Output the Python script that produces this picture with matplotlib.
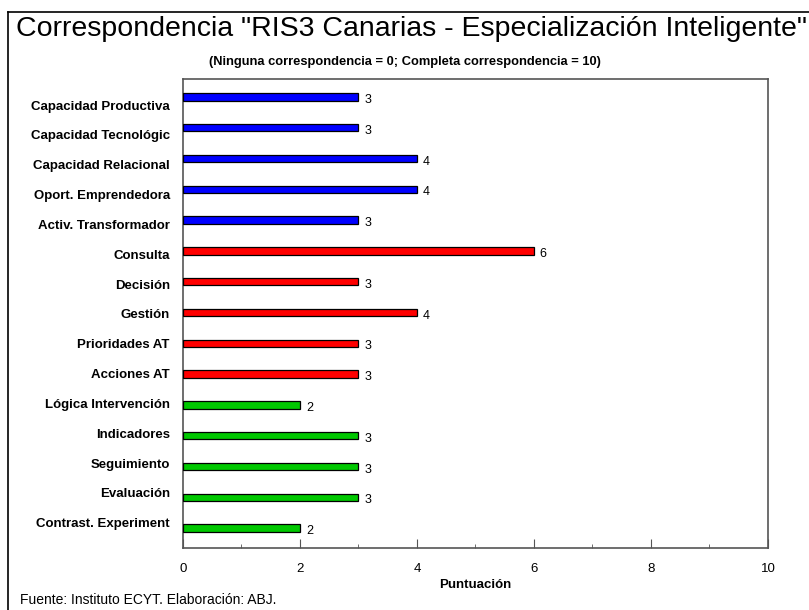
import numpy as np
import matplotlib
matplotlib.use('Agg')
from matplotlib import pyplot as plt
from matplotlib.lines import Line2D

categories = ['Capacidad Productiva', 'Capacidad Tecnológic', 'Capacidad Relacional',
              'Oport. Emprendedora', 'Activ. Transformador', 'Consulta', 'Decisión',
              'Gestión', 'Prioridades AT', 'Acciones AT', 'Lógica Intervención',
              'Indicadores', 'Seguimiento', 'Evaluación', 'Contrast. Experiment']
values = [3, 3, 4, 4, 3, 6, 3, 4, 3, 3, 2, 3, 3, 3, 2]
groups = ['azul'] * 5 + ['rojo'] * 5 + ['verde'] * 5
group_colors = {'azul': '#0000FF', 'rojo': '#FF0000', 'verde': '#00C800'}
x_ticks = [0, 2, 4, 6, 8, 10]

plt.rcParams['font.family'] = ['Liberation Sans', 'DejaVu Sans']

fig = plt.figure(figsize=(8.09, 6.10), dpi=100)
ax = fig.add_axes([0.2262, 0.1016, 0.7231, 0.7689])

pos = np.arange(len(categories))
colors = [group_colors[g] for g in groups]
ax.barh(pos, values, height=0.24, color=colors, edgecolor='black', linewidth=0.9, zorder=3)

for p, v in zip(pos, values):
    ax.text(v + 0.1, p + 0.1, str(v), fontsize=9, va='center', ha='left')

ax.set_xlim(0, 10)
ax.set_ylim(14.65, -0.585)

# etiquetas de categorias ligeramente desplazadas respecto a las barras
label_pos = 0.26 + pos * (13.57 / 14)
ax.set_yticks(label_pos)
ax.set_yticklabels(categories, fontsize=9.5, fontweight='bold')
ax.tick_params(axis='y', length=0, pad=9.5)

ax.set_xticks(x_ticks)
ax.set_xticks(np.arange(0, 11, 1), minor=True)
ax.tick_params(axis='x', which='major', direction='in', length=6.5, color='#555555', labelsize=9.5, pad=11)
ax.tick_params(axis='x', which='minor', direction='in', length=3, color='#555555')
ax.set_xlabel('Puntuación', fontsize=9.5, fontweight='bold', labelpad=3)

for s in ax.spines.values():
    s.set_color('#555555')
    s.set_linewidth(1.2)

fig.text(0.5087, 0.952, 'Correspondencia "RIS3 Canarias - Especialización Inteligente"',
         ha='center', va='center', fontsize=20.5)
fig.text(0.5, 0.898, '(Ninguna correspondencia = 0; Completa correspondencia = 10)',
         ha='center', va='center', fontsize=9.3, fontweight='bold')
fig.text(0.025, 0.016, 'Fuente: Instituto ECYT. Elaboración: ABJ.', ha='left', va='center', fontsize=10)

# marco superior e izquierdo
fig.add_artist(Line2D([0.0099, 1.0], [1 - 12 / 610, 1 - 12 / 610], color='black', lw=1.2))
fig.add_artist(Line2D([0.0099, 0.0099], [0.0, 1 - 12 / 610], color='black', lw=1.2))

fig.savefig('out.png', dpi=100)
